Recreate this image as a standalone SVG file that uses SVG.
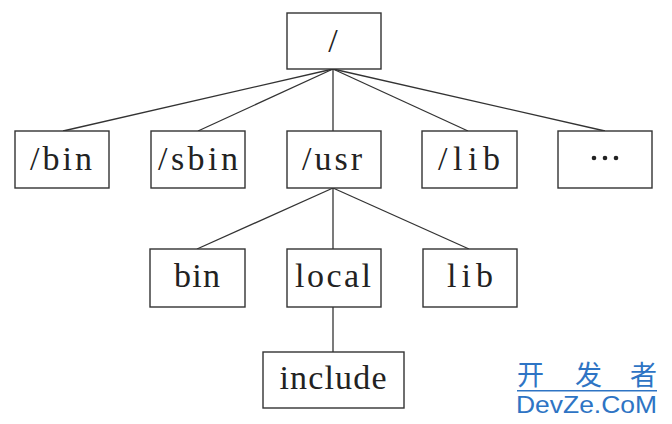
<svg xmlns="http://www.w3.org/2000/svg" width="672" height="424" viewBox="0 0 672 424">
<style>
.box{fill:#fff;stroke:#333;stroke-width:1.4}
.lbl{font-family:"Liberation Serif","DejaVu Serif",serif;font-size:34px;fill:#222;text-anchor:middle}
.edge{stroke:#333;stroke-width:1.3;fill:none}
.wm{fill:#2e74c4}
.cjk{font-family:"Noto Sans CJK SC","Noto Sans",sans-serif;font-size:27px}
.lat{font-family:"Liberation Sans","Noto Sans",sans-serif;font-size:24px}
</style>
<rect width="672" height="424" fill="#fff"/>
<g id="connectors">
<line class="edge" x1="333" y1="69" x2="63" y2="131"/>
<line class="edge" x1="333" y1="69" x2="198" y2="131"/>
<line class="edge" x1="333" y1="69" x2="333" y2="131"/>
<line class="edge" x1="333" y1="69" x2="468" y2="131"/>
<line class="edge" x1="333" y1="69" x2="605" y2="131"/>
<line class="edge" x1="333" y1="188" x2="197" y2="249"/>
<line class="edge" x1="333" y1="188" x2="333" y2="249"/>
<line class="edge" x1="333" y1="188" x2="469" y2="249"/>
<line class="edge" x1="333" y1="307" x2="333" y2="352"/>
</g>
<g id="root"><rect class="box" x="287" y="13" width="94" height="56"/><text class="lbl" x="333" y="52">/</text></g>
<g id="bin"><rect class="box" x="15" y="131" width="94" height="57"/><text class="lbl" x="61" y="170" textLength="62" lengthAdjust="spacing">/bin</text></g>
<g id="sbin"><rect class="box" x="151" y="131" width="94" height="57"/><text class="lbl" x="198" y="170" textLength="80" lengthAdjust="spacing">/sbin</text></g>
<g id="usr"><rect class="box" x="287" y="131" width="94" height="57"/><text class="lbl" x="332" y="170" textLength="60" lengthAdjust="spacing">/usr</text></g>
<g id="lib"><rect class="box" x="422" y="131" width="95" height="57"/><text class="lbl" x="469" y="170" textLength="62" lengthAdjust="spacing">/lib</text></g>
<g id="more"><rect class="box" x="558" y="131" width="94" height="57"/><g fill="#222"><circle cx="594" cy="158" r="2.3"/><circle cx="605" cy="158" r="2.3"/><circle cx="616" cy="158" r="2.3"/></g></g>
<g id="usr-bin"><rect class="box" x="150" y="249" width="95" height="58"/><text class="lbl" x="197" y="287" textLength="46" lengthAdjust="spacing">bin</text></g>
<g id="local"><rect class="box" x="287" y="249" width="94" height="58"/><text class="lbl" x="333" y="287" textLength="76" lengthAdjust="spacing">local</text></g>
<g id="usr-lib"><rect class="box" x="423" y="249" width="94" height="58"/><text class="lbl" x="470" y="287" textLength="46" lengthAdjust="spacing">lib</text></g>
<g id="include"><rect class="box" x="263" y="352" width="141" height="56"/><text class="lbl" x="333" y="389" textLength="107" lengthAdjust="spacing">include</text></g>
<g id="watermark">
<text class="wm cjk" x="517" y="385">开</text>
<text class="wm cjk" x="575" y="385">发</text>
<text class="wm cjk" x="630" y="385">者</text>
<rect x="517" y="390" width="140" height="1.5" fill="#2e74c4"/>
<text class="wm lat" x="516" y="413" textLength="141" lengthAdjust="spacingAndGlyphs">DevZe.CoM</text>
</g>
</svg>
